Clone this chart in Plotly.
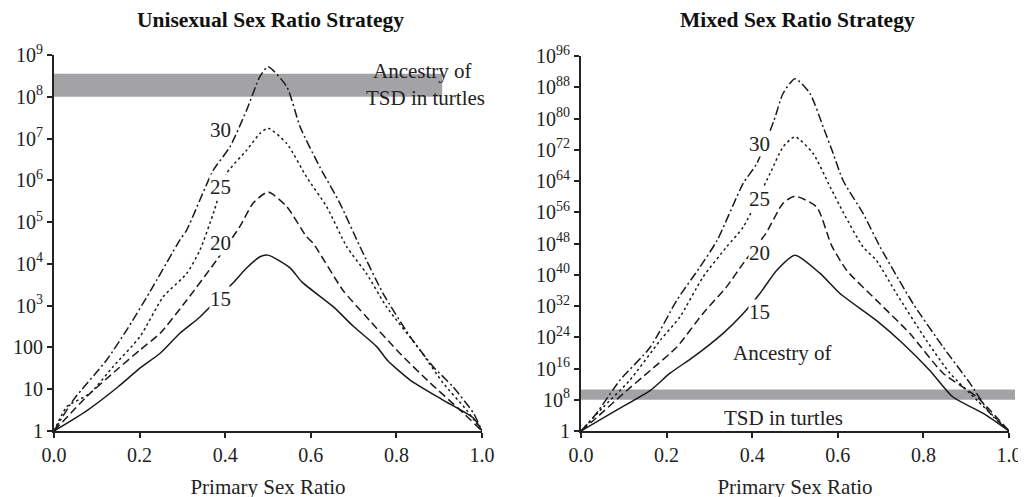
import plotly.graph_objects as go
from plotly.subplots import make_subplots

# ---------------- data (log10 of the value) ----------------
# Left panel: Unisexual Sex Ratio Strategy
uni15_x = [0, 0.077, 0.15, 0.2, 0.248, 0.294, 0.341, 0.418, 0.45, 0.481, 0.5, 0.552, 0.579, 0.653, 0.7, 0.754, 0.78, 0.832, 0.909, 0.98, 1.0]
uni15_L = [0, 0.49, 1.06, 1.5, 1.86, 2.34, 2.73, 3.54, 3.9, 4.17, 4.21, 3.9, 3.57, 2.97, 2.5, 2.02, 1.68, 1.22, 0.74, 0.31, 0]

uni20_x = [0, 0.076, 0.146, 0.201, 0.248, 0.31, 0.38, 0.434, 0.465, 0.5, 0.544, 0.59, 0.605, 0.675, 0.73, 0.808, 0.879, 0.949, 1.0]
uni20_L = [0, 0.82, 1.46, 1.94, 2.34, 3.13, 4.09, 4.89, 5.45, 5.72, 5.37, 4.65, 4.5, 3.37, 2.73, 1.86, 1.15, 0.5, 0]

uni25_x = [0, 0.03, 0.084, 0.138, 0.201, 0.255, 0.31, 0.341, 0.372, 0.403, 0.45, 0.481, 0.5, 0.544, 0.59, 0.637, 0.684, 0.73, 0.777, 0.855, 0.909, 0.964, 1.0]
uni25_L = [0, 0.58, 0.9, 1.54, 2.26, 3.21, 3.77, 4.33, 5.2, 6.16, 6.72, 7.12, 7.25, 6.88, 6.08, 5.37, 4.41, 3.77, 2.97, 1.94, 1.15, 0.5, 0]

uni30_x = [0, 0.045, 0.123, 0.17, 0.224, 0.294, 0.31, 0.372, 0.411, 0.45, 0.481, 0.5, 0.544, 0.575, 0.621, 0.668, 0.715, 0.769, 0.832, 0.886, 0.932, 0.98, 1.0]
uni30_L = [0, 0.74, 1.7, 2.42, 3.33, 4.57, 4.81, 6.24, 6.8, 7.68, 8.48, 8.72, 8.24, 7.28, 6.32, 5.45, 4.41, 3.29, 2.26, 1.54, 1.06, 0.43, 0]

# Right panel: Mixed Sex Ratio Strategy (exponent of 10)
mix15_x = [0, 0.076, 0.162, 0.208, 0.262, 0.332, 0.379, 0.418, 0.457, 0.5, 0.558, 0.605, 0.69, 0.752, 0.815, 0.869, 0.94, 1.0]
mix15_L = [0, 4.9, 10.4, 14.8, 18.9, 25, 30.1, 35.2, 41.1, 45, 40.4, 35.2, 28.3, 22.4, 15.5, 8.7, 4.5, 0]

mix20_x = [0, 0.029, 0.099, 0.162, 0.224, 0.285, 0.34, 0.379, 0.432, 0.472, 0.5, 0.551, 0.585, 0.621, 0.69, 0.768, 0.846, 0.925, 1.0]
mix20_L = [0, 2.7, 9.6, 15.5, 21.5, 30.1, 36.9, 42.9, 50.6, 58.3, 60.1, 57.3, 47.6, 41.1, 33.5, 25, 14.8, 8.7, 0]

mix25_x = [0, 0.052, 0.114, 0.185, 0.231, 0.285, 0.34, 0.379, 0.442, 0.472, 0.5, 0.542, 0.582, 0.614, 0.659, 0.69, 0.737, 0.807, 0.862, 0.925, 1.0]
mix25_L = [0, 6.1, 13, 23.2, 29.2, 39.4, 47.1, 52.2, 66, 72.7, 75.3, 71.1, 62.5, 55.7, 47.1, 43.7, 35.2, 23.2, 14.8, 7.9, 0]

mix30_x = [0, 0.036, 0.091, 0.162, 0.224, 0.278, 0.318, 0.379, 0.411, 0.451, 0.472, 0.5, 0.535, 0.566, 0.589, 0.612, 0.659, 0.699, 0.776, 0.846, 0.909, 0.956, 1.0]
mix30_L = [0, 4.5, 13, 21.5, 33.5, 42, 48.8, 63.4, 68.5, 79.5, 86.4, 90.2, 86.4, 77.8, 71.1, 64.2, 55.7, 47.1, 32.6, 21.5, 12.2, 4.5, 0]

series_names = ["15", "20", "25", "30"]

left_ticks = list(range(0, 10))
left_ticktext = ["1", "10", "100"] + [f"10<sup>{e}</sup>" for e in range(3, 10)]
right_ticks = list(range(0, 97, 8))
right_ticktext = ["1"] + [f"10<sup>{e}</sup>" for e in range(8, 97, 8)]
x_ticks = [0, 0.2, 0.4, 0.6, 0.8, 1.0]
x_ticktext = ["0.0", "0.2", "0.4", "0.6", "0.8", "1.0"]

# band extents (exponents)
left_band = (8.0, 8.55)
right_band = (8.0, 10.6)

# ---------------- figure ----------------
FONT = "Liberation Serif"
W, H = 1026, 497
OFF = 8  # page body margin


def px(p):
    return (p - OFF) / W


def py(p):
    return 1 - (p - OFF) / H


dashes = ["solid", "8px,4px", "2.5px,3px", "9px,3px,2px,3px"]

fig = make_subplots(rows=1, cols=2)

left_series = [(uni15_x, uni15_L), (uni20_x, uni20_L), (uni25_x, uni25_L), (uni30_x, uni30_L)]
right_series = [(mix15_x, mix15_L), (mix20_x, mix20_L), (mix25_x, mix25_L), (mix30_x, mix30_L)]

for (xs, ls), name, d in zip(left_series, series_names, dashes):
    fig.add_trace(go.Scatter(x=xs, y=[10 ** v for v in ls], mode="lines", name=name,
                             line=dict(color="#1a1a1a", width=1.5, dash=d, shape="spline", smoothing=0.6),
                             showlegend=False), row=1, col=1)
for (xs, ls), name, d in zip(right_series, series_names, dashes):
    fig.add_trace(go.Scatter(x=xs, y=[10.0 ** v for v in ls], mode="lines", name=name,
                             line=dict(color="#1a1a1a", width=1.5, dash=d, shape="spline", smoothing=0.6),
                             showlegend=False), row=1, col=2)

# gray bands
fig.add_shape(type="rect", xref="x", yref="y", x0=0, x1=0.907,
              y0=10 ** left_band[0], y1=10 ** left_band[1],
              fillcolor="#a3a3a6", line=dict(width=0), layer="below")
fig.add_shape(type="rect", xref="paper", yref="y2", x0=px(581), x1=px(1015),
              y0=10.0 ** right_band[0], y1=10.0 ** right_band[1],
              fillcolor="#a3a3a6", line=dict(width=0), layer="below")

axis_common = dict(showgrid=False, zeroline=False, showline=True, linecolor="#222",
                   linewidth=2, ticks="outside", ticklen=5, tickwidth=1.5, tickcolor="#222",
                   automargin=False,
                   tickfont=dict(family=FONT, size=20, color="#222"))

fig.update_xaxes(range=[0, 1], tickvals=x_ticks, ticktext=x_ticktext, **axis_common)
fig.update_xaxes(domain=[px(54), px(482)], row=1, col=1)
fig.update_xaxes(domain=[px(581), px(1009)], row=1, col=2)
fig.update_xaxes(title=dict(text="Primary Sex Ratio", font=dict(family=FONT, size=21, color="#222"), standoff=14))

fig.update_yaxes(type="log", **axis_common)
fig.update_yaxes(range=[0, 9], tickvals=[10 ** v for v in left_ticks], ticktext=left_ticktext,
                 domain=[py(431), py(55)], row=1, col=1)
fig.update_yaxes(range=[0, 96], tickvals=[10.0 ** v for v in right_ticks], ticktext=right_ticktext,
                 domain=[py(431), py(56)], row=1, col=2)

ann_font = dict(family=FONT, size=21, color="#222")
annotations = []
# titles
annotations.append(dict(text="<b>Unisexual Sex Ratio Strategy</b>", xref="paper", yref="paper",
                        x=px(270), y=py(20), showarrow=False, xanchor="center", yanchor="middle",
                        font=dict(family=FONT, size=21.5, color="#111")))
annotations.append(dict(text="<b>Mixed Sex Ratio Strategy</b>", xref="paper", yref="paper",
                        x=px(797), y=py(20), showarrow=False, xanchor="center", yanchor="middle",
                        font=dict(family=FONT, size=21.5, color="#111")))
# curve labels
left_label_L = [3.16, 4.5, 5.85, 7.2]
right_label_E = [30.5, 45.5, 59.5, 73.5]
for name, lv in zip(series_names, left_label_L):
    annotations.append(dict(text=name, x=0.39, y=lv, xref="x", yref="y", showarrow=False,
                            xanchor="center", yanchor="middle",
                            font=ann_font, bgcolor="white", borderpad=0))
for name, ev in zip(series_names, right_label_E):
    annotations.append(dict(text=name, x=0.418, y=ev, xref="x2", yref="y2", showarrow=False,
                            xanchor="center", yanchor="middle",
                            font=ann_font, bgcolor="white", borderpad=0))
# band labels
annotations.append(dict(text="Ancestry of", x=0.862, y=8.62, xref="x", yref="y", showarrow=False,
                        xanchor="center", yanchor="middle", font=ann_font))
annotations.append(dict(text="TSD in turtles", x=0.867, y=7.98, xref="x", yref="y", showarrow=False,
                        xanchor="center", yanchor="middle", font=ann_font))
annotations.append(dict(text="Ancestry of", x=0.471, y=19.9, xref="x2", yref="y2", showarrow=False,
                        xanchor="center", yanchor="middle", font=ann_font))
annotations.append(dict(text="TSD in turtles", x=0.474, y=3.25, xref="x2", yref="y2", showarrow=False,
                        xanchor="center", yanchor="middle", font=ann_font))

fig.update_layout(width=W, height=H, margin=dict(l=0, r=0, t=0, b=0),
                  template="none",
                  paper_bgcolor="white", plot_bgcolor="white",
                  annotations=annotations, font=dict(family=FONT))

fig.write_html("out.html")
